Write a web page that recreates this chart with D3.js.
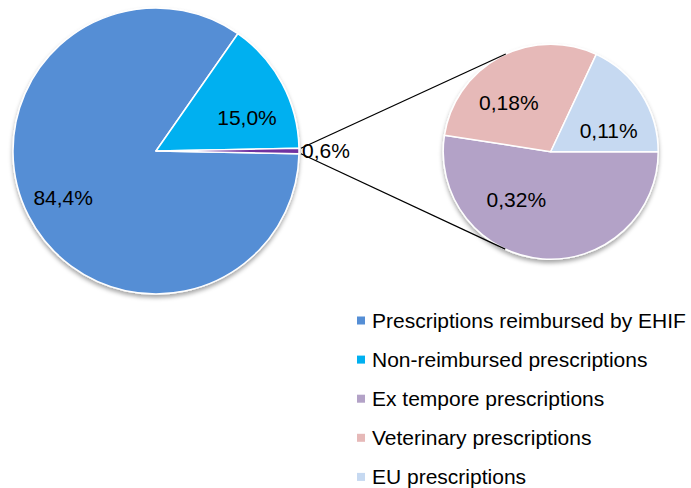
<!DOCTYPE html>
<html>
<head>
<meta charset="utf-8">
<script src="https://cdn.jsdelivr.net/npm/d3@7"></script>
<style>
  html, body { margin: 0; padding: 0; background: #fff; }
  svg { display: block; font-family: "Liberation Sans", Arial, sans-serif; }
</style>
</head>
<body>
<svg id="chart" width="691" height="488"></svg>
<script>
// ---- data ----
const mainCategories = ["Prescriptions reimbursed by EHIF", "Non-reimbursed prescriptions"];
const mainValues = [84.4, 15.0];
const mainValueLabels = ["84,4%", "15,0%"];
const otherCategories = ["Ex tempore prescriptions", "Veterinary prescriptions", "EU prescriptions"];
const otherValues = [0.32, 0.18, 0.11];
const otherValueLabels = ["0,32%", "0,18%", "0,11%"];
const otherTotalLabel = "0,6%";

// ---- styles / layout ----
const mainColors = ["#558ED5", "#00B0F0"];
const otherMainColor = "#7030A0";
const otherColors = ["#B3A2C7", "#E6B9B8", "#C6D9F1"];
const mainLabelOffsets = [[-10, 4], [9, 10]];
const otherLabelOffsets = [[-29, -22], [-9, 12.5], [-1, 16.7]];

const svg = d3.select("#chart");
const defs = svg.append("defs");
const f = defs.append("filter").attr("id", "shadow")
  .attr("x", "-10%").attr("y", "-10%").attr("width", "120%").attr("height", "125%");
f.append("feDropShadow").attr("dx", 0).attr("dy", 3).attr("stdDeviation", 2.2)
  .attr("flood-color", "#000").attr("flood-opacity", 0.35);

const C1 = { x: 156, y: 151, r: 143 };
const C2 = { x: 550.7, y: 151.7, r: 107.5 };

const otherSum = d3.sum(otherValues);
const mainData = mainValues.map((v, i) => ({ v, color: mainColors[i], label: mainValueLabels[i], off: mainLabelOffsets[i] }))
  .concat([{ v: otherSum, color: otherMainColor, label: otherTotalLabel, other: true }]);
const total = d3.sum(mainData, d => d.v);
const otherAngle = otherSum / total * 2 * Math.PI;
const start1 = Math.PI / 2 + otherAngle / 2;

const pie1 = d3.pie().value(d => d.v).sort(null).startAngle(start1).endAngle(start1 + 2 * Math.PI);
const arcs1 = pie1(mainData);
const arc1 = d3.arc().innerRadius(0).outerRadius(C1.r);
const lab1 = d3.arc().innerRadius(C1.r * 0.65).outerRadius(C1.r * 0.65);

const g1 = svg.append("g").attr("transform", `translate(${C1.x},${C1.y})`);
g1.append("g").attr("filter", "url(#shadow)")
  .selectAll("path").data(arcs1).join("path")
  .attr("d", arc1).attr("fill", d => d.data.color)
  .attr("stroke", "#fff").attr("stroke-width", 1.5).attr("stroke-linejoin", "round");

const pie2 = d3.pie().value(d => d).sort(null).startAngle(Math.PI / 2).endAngle(Math.PI / 2 + 2 * Math.PI);
const arcs2 = pie2(otherValues);
const arc2 = d3.arc().innerRadius(0).outerRadius(C2.r);
const lab2 = d3.arc().innerRadius(C2.r * 0.65).outerRadius(C2.r * 0.65);

const g2 = svg.append("g").attr("transform", `translate(${C2.x},${C2.y})`);
g2.append("g").attr("filter", "url(#shadow)")
  .selectAll("path").data(arcs2).join("path")
  .attr("d", arc2).attr("fill", (d, i) => otherColors[i])
  .attr("stroke", "#fff").attr("stroke-width", 1.5).attr("stroke-linejoin", "round");

// connector lines (tangents from the "other" wedge to the secondary pie)
const oa = arcs1[2];
function ptOn(c, R, a) { return { x: c.x + R * Math.sin(a), y: c.y - R * Math.cos(a) }; }
function tangent(P, c, upper) {
  const dx = P.x - c.x, dy = P.y - c.y;
  const d = Math.hypot(dx, dy);
  const phi = Math.atan2(dy, dx);
  const al = Math.acos(c.r / d);
  const t1 = { x: c.x + c.r * Math.cos(phi + al), y: c.y + c.r * Math.sin(phi + al) };
  const t2 = { x: c.x + c.r * Math.cos(phi - al), y: c.y + c.r * Math.sin(phi - al) };
  return upper ? (t1.y < t2.y ? t1 : t2) : (t1.y < t2.y ? t2 : t1);
}
const pU = ptOn(C1, C1.r + 2, oa.startAngle);
const pL = ptOn(C1, C1.r + 2, oa.endAngle);
const tU = tangent(pU, C2, true);
const tL = tangent(pL, C2, false);
svg.append("line").attr("x1", pU.x).attr("y1", pU.y).attr("x2", tU.x).attr("y2", tU.y)
  .attr("stroke", "#000").attr("stroke-width", 1.3);
svg.append("line").attr("x1", pL.x).attr("y1", pL.y).attr("x2", tL.x).attr("y2", tL.y)
  .attr("stroke", "#000").attr("stroke-width", 1.3);

// labels
const fs = 21;
g1.selectAll("text.l").data(arcs1.filter(d => !d.data.other)).join("text")
  .attr("class", "l")
  .attr("x", d => lab1.centroid(d)[0] + d.data.off[0])
  .attr("y", d => lab1.centroid(d)[1] + d.data.off[1])
  .attr("dy", "0.35em").attr("text-anchor", "middle")
  .attr("font-size", fs).attr("fill", "#000").text(d => d.data.label);
// outside label for the combined wedge
const oMid = (oa.startAngle + oa.endAngle) / 2;
const oPos = ptOn({ x: 0, y: 0 }, C1.r + 27, oMid);
g1.append("text").attr("x", oPos.x).attr("y", oPos.y).attr("dy", "0.35em")
  .attr("text-anchor", "middle").attr("font-size", fs).attr("fill", "#000").text(otherTotalLabel);

g2.selectAll("text").data(arcs2).join("text")
  .attr("x", (d, i) => lab2.centroid(d)[0] + otherLabelOffsets[i][0])
  .attr("y", (d, i) => lab2.centroid(d)[1] + otherLabelOffsets[i][1])
  .attr("dy", "0.35em").attr("text-anchor", "middle")
  .attr("font-size", fs).attr("fill", "#000").text((d, i) => otherValueLabels[i]);

// legend
const legendItems = mainCategories.map((c, i) => ({ c, color: mainColors[i] }))
  .concat(otherCategories.map((c, i) => ({ c, color: otherColors[i] })));
const lg = svg.append("g").attr("transform", "translate(357,328)");
const rows = lg.selectAll("g").data(legendItems).join("g")
  .attr("transform", (d, i) => `translate(0,${i * 39.1})`);
rows.append("rect").attr("x", 0).attr("y", -11.5).attr("width", 8).attr("height", 8)
  .attr("fill", d => d.color);
rows.append("text").attr("x", 15).attr("y", 0).attr("font-size", fs).attr("fill", "#000")
  .text(d => d.c);
</script>
</body>
</html>
